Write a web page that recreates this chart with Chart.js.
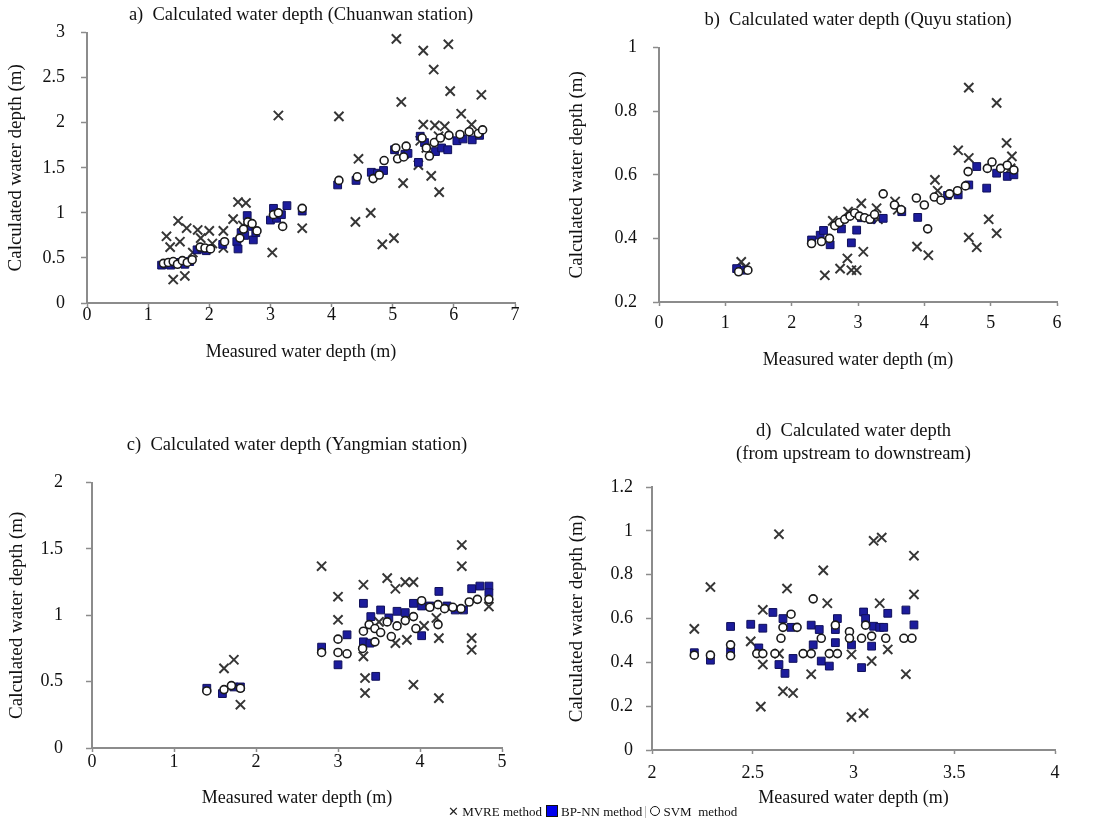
<!DOCTYPE html>
<html>
<head>
<meta charset="utf-8">
<script src="https://cdn.jsdelivr.net/npm/chart.js@4.4.1/dist/chart.umd.min.js"></script>
<style>
  body { margin: 0; background: #fff; }
  #page { position: relative; width: 1095px; height: 825px; overflow: hidden; font-family: 'Liberation Serif', 'Times New Roman', serif; }
  canvas { position: absolute; }
  #legend { position: absolute; left: 448px; top: 804px; font-size: 13px; color: #111; white-space: nowrap; z-index: 2; }
  #legend .cross { font-family: 'DejaVu Sans', sans-serif; font-size: 13px; color: #222; }
  #legend .sq { display: inline-block; width: 10px; height: 10px; background: #0000ee; border: 1px solid #111; vertical-align: -1px; margin: 0 3px 0 4px; }
  #legend .circ { display: inline-block; width: 8px; height: 8px; border: 1.5px solid #111; border-radius: 50%; vertical-align: 0; margin: 0 3px 0 4px; }
  #legend .sep { display: inline-block; width: 1px; height: 12px; background: #bbb; vertical-align: -2px; }
</style>
</head>
<body>
<div id="page">
  <canvas id="chartA" width="545" height="370" style="left:0;top:0"></canvas>
  <canvas id="chartB" width="550" height="375" style="left:545px;top:0"></canvas>
  <canvas id="chartC" width="545" height="403" style="left:0;top:410px"></canvas>
  <canvas id="chartD" width="550" height="403" style="left:545px;top:410px"></canvas>
  <div id="legend">
    <span class="cross">✕</span> MVRE method<span class="sq"></span>BP-NN method <span class="sep"></span><span class="circ"></span>SVM&nbsp; method
  </div>
</div>
<script>
// a) Chuanwan station
const aMvreX = [1.30, 1.36, 1.41, 1.49, 1.52, 1.60, 1.63, 1.73, 1.81, 1.86, 2.00, 2.05, 2.23, 2.23, 2.39, 2.47, 2.60, 2.55, 3.03, 3.13, 3.52, 4.12, 4.39, 4.44, 4.64, 4.83, 5.02, 5.06, 5.14, 5.17, 5.42, 5.50, 5.50, 5.63, 5.67, 5.69, 5.76, 5.85, 5.91, 5.94, 6.12, 6.29, 6.45, 5.45, 5.55, 5.75];
const aMvreY = [0.74, 0.62, 0.26, 0.91, 0.68, 0.30, 0.83, 0.56, 0.81, 0.72, 0.80, 0.66, 0.80, 0.61, 0.93, 1.12, 1.11, 0.86, 0.56, 2.08, 0.83, 2.07, 0.90, 1.60, 1.00, 0.65, 0.72, 2.93, 2.23, 1.33, 1.53, 2.80, 1.98, 1.41, 2.59, 1.97, 1.23, 1.96, 2.87, 2.35, 2.10, 1.98, 2.31, 1.80, 1.72, 1.85];
const aBpX = [1.22, 1.30, 1.37, 1.45, 1.52, 1.60, 1.68, 1.80, 1.88, 1.95, 2.22, 2.45, 2.47, 2.52, 2.58, 2.62, 2.68, 2.72, 2.76, 3.00, 3.05, 3.10, 3.18, 3.27, 3.52, 4.10, 4.40, 4.65, 4.75, 4.85, 5.03, 5.20, 5.25, 5.42, 5.45, 5.52, 5.70, 5.80, 5.90, 6.05, 6.15, 6.30, 6.42];
const aBpY = [0.42, 0.43, 0.42, 0.44, 0.45, 0.43, 0.46, 0.59, 0.60, 0.58, 0.65, 0.68, 0.60, 0.78, 0.75, 0.97, 0.85, 0.70, 0.78, 0.92, 1.05, 0.94, 0.98, 1.08, 1.02, 1.31, 1.36, 1.45, 1.44, 1.47, 1.70, 1.65, 1.66, 1.56, 1.85, 1.78, 1.68, 1.72, 1.70, 1.80, 1.82, 1.81, 1.86];
const aSvmX = [1.25, 1.33, 1.41, 1.48, 1.56, 1.64, 1.72, 1.85, 1.93, 2.02, 2.25, 2.50, 2.56, 2.63, 2.70, 2.78, 3.05, 3.13, 3.20, 3.52, 4.12, 4.42, 4.68, 4.78, 4.86, 5.05, 5.08, 5.18, 5.22, 5.48, 5.55, 5.60, 5.68, 5.78, 5.92, 6.10, 6.25, 6.40, 6.47];
const aSvmY = [0.44, 0.45, 0.46, 0.43, 0.47, 0.45, 0.48, 0.62, 0.61, 0.60, 0.68, 0.72, 0.82, 0.90, 0.88, 0.80, 0.98, 1.00, 0.85, 1.05, 1.36, 1.40, 1.38, 1.42, 1.58, 1.72, 1.60, 1.62, 1.74, 1.83, 1.72, 1.63, 1.78, 1.83, 1.86, 1.87, 1.90, 1.88, 1.92];

// b) Quyu station
const bMvreX = [1.24, 1.30, 2.50, 2.62, 2.73, 2.84, 2.85, 2.90, 2.98, 3.08, 3.05, 3.28, 3.30, 3.56, 3.60, 3.89, 4.06, 4.16, 4.20, 4.51, 4.67, 4.67, 4.67, 4.79, 4.97, 5.09, 5.09, 5.24, 5.32, 5.30];
const bMvreY = [0.326, 0.31, 0.284, 0.455, 0.305, 0.337, 0.484, 0.30, 0.30, 0.358, 0.51, 0.495, 0.46, 0.516, 0.49, 0.374, 0.347, 0.584, 0.55, 0.677, 0.653, 0.874, 0.403, 0.372, 0.46, 0.826, 0.416, 0.70, 0.658, 0.62];
const bBpX = [1.17, 1.28, 2.30, 2.43, 2.48, 2.58, 2.75, 2.90, 2.98, 3.05, 3.20, 3.38, 3.66, 3.90, 4.35, 4.51, 4.67, 4.79, 4.94, 5.09, 5.25, 5.35];
const bBpY = [0.305, 0.30, 0.395, 0.41, 0.425, 0.38, 0.43, 0.386, 0.426, 0.465, 0.46, 0.463, 0.484, 0.466, 0.535, 0.537, 0.568, 0.626, 0.558, 0.605, 0.595, 0.60];
const bSvmX = [1.20, 1.34, 2.30, 2.45, 2.57, 2.65, 2.72, 2.80, 2.88, 2.95, 3.02, 3.10, 3.18, 3.25, 3.38, 3.55, 3.65, 3.88, 4.00, 4.05, 4.15, 4.25, 4.38, 4.50, 4.62, 4.66, 4.95, 5.02, 5.15, 5.25, 5.35];
const bSvmY = [0.295, 0.30, 0.384, 0.39, 0.40, 0.44, 0.45, 0.46, 0.47, 0.48, 0.47, 0.465, 0.46, 0.475, 0.54, 0.505, 0.49, 0.527, 0.505, 0.43, 0.53, 0.52, 0.54, 0.55, 0.565, 0.61, 0.62, 0.64, 0.62, 0.63, 0.615];

// c) Yangmian station
const cMvreX = [1.61, 1.73, 1.81, 2.80, 3.00, 3.00, 3.31, 3.31, 3.33, 3.33, 3.60, 3.70, 3.82, 3.92, 3.92, 3.70, 3.84, 4.20, 4.23, 4.23, 4.51, 4.51, 4.63, 4.63, 4.84, 3.50, 4.05];
const cMvreY = [0.60, 0.665, 0.326, 1.37, 1.14, 0.966, 1.23, 0.69, 0.527, 0.414, 1.28, 1.20, 1.25, 1.25, 0.477, 0.79, 0.815, 0.98, 0.828, 0.376, 1.53, 1.37, 0.828, 0.74, 1.066, 0.95, 0.92];
const cBpX = [1.40, 1.59, 1.73, 1.81, 2.80, 3.00, 3.11, 3.31, 3.31, 3.39, 3.40, 3.46, 3.52, 3.62, 3.72, 3.82, 3.92, 4.02, 4.02, 4.12, 4.23, 4.33, 4.43, 4.53, 4.63, 4.73, 4.84, 4.84];
const cBpY = [0.45, 0.41, 0.46, 0.46, 0.76, 0.627, 0.853, 1.09, 0.80, 0.79, 0.99, 0.54, 1.04, 0.98, 1.03, 1.02, 1.09, 0.846, 1.07, 1.07, 1.18, 1.07, 1.04, 1.04, 1.20, 1.22, 1.22, 1.17];
const cSvmX = [1.40, 1.61, 1.70, 1.81, 2.80, 3.00, 3.00, 3.11, 3.30, 3.31, 3.38, 3.45, 3.52, 3.60, 3.65, 3.72, 3.82, 3.92, 3.95, 4.02, 4.12, 4.22, 4.30, 4.40, 4.50, 4.60, 4.70, 4.84, 3.45, 4.22];
const cSvmY = [0.43, 0.44, 0.47, 0.45, 0.72, 0.82, 0.72, 0.71, 0.75, 0.88, 0.93, 0.90, 0.87, 0.95, 0.84, 0.92, 0.96, 0.99, 0.90, 1.11, 1.06, 1.08, 1.05, 1.06, 1.05, 1.10, 1.12, 1.12, 0.80, 0.93];

// d) upstream to downstream
const dMvreX = [2.21, 2.29, 2.49, 2.54, 2.55, 2.55, 2.63, 2.63, 2.65, 2.67, 2.70, 2.79, 2.85, 2.87, 2.99, 2.99, 3.05, 3.09, 3.10, 3.13, 3.14, 3.17, 3.26, 3.30, 3.30];
const dMvreY = [0.553, 0.744, 0.496, 0.198, 0.64, 0.39, 0.985, 0.44, 0.268, 0.737, 0.26, 0.346, 0.82, 0.67, 0.436, 0.15, 0.168, 0.406, 0.955, 0.67, 0.97, 0.459, 0.346, 0.887, 0.71];
const dBpX = [2.21, 2.29, 2.39, 2.39, 2.49, 2.53, 2.55, 2.60, 2.63, 2.65, 2.66, 2.69, 2.70, 2.79, 2.80, 2.83, 2.84, 2.88, 2.91, 2.92, 2.91, 2.99, 3.04, 3.05, 3.06, 3.09, 3.10, 3.13, 3.15, 3.17, 3.26, 3.30];
const dBpY = [0.444, 0.41, 0.564, 0.45, 0.574, 0.466, 0.556, 0.628, 0.39, 0.60, 0.35, 0.56, 0.418, 0.57, 0.48, 0.55, 0.406, 0.383, 0.55, 0.60, 0.49, 0.48, 0.376, 0.63, 0.60, 0.474, 0.565, 0.56, 0.56, 0.624, 0.639, 0.571];
const dSvmX = [2.21, 2.29, 2.39, 2.39, 2.52, 2.55, 2.61, 2.64, 2.65, 2.69, 2.72, 2.75, 2.79, 2.84, 2.88, 2.92, 2.80, 2.98, 2.98, 3.04, 3.09, 3.16, 3.25, 3.29, 2.91, 3.06];
const dSvmY = [0.433, 0.433, 0.48, 0.43, 0.44, 0.44, 0.44, 0.51, 0.56, 0.62, 0.56, 0.44, 0.44, 0.51, 0.44, 0.44, 0.69, 0.54, 0.51, 0.51, 0.52, 0.51, 0.51, 0.51, 0.57, 0.57];

const xTitle = 'Measured water depth (m)';
const yTitle = 'Calculated water depth (m)';
const serif = "'Liberation Serif', 'Times New Roman', serif";
const axisGray = '#8c8c8c';

function toPoints(xs, ys) {
    return xs.map((x, i) => ({ x: x, y: ys[i] }));
}

function fmt(v) {
    return String(Math.round(v * 100) / 100);
}

function buildChart(id, c) {
    const font = { family: serif, size: 18 };
    return new Chart(document.getElementById(id), {
        type: 'scatter',
        data: {
            datasets: [
                {
                    label: 'MVRE method',
                    data: toPoints(c.mvre[0], c.mvre[1]),
                    pointStyle: 'crossRot',
                    pointRadius: 6.5,
                    borderWidth: 2,
                    borderColor: '#363636',
                    backgroundColor: '#363636',
                    order: 3
                },
                {
                    label: 'BP-NN method',
                    data: toPoints(c.bp[0], c.bp[1]),
                    pointStyle: 'rect',
                    pointRadius: 5.5,
                    borderWidth: 1,
                    borderColor: '#10105a',
                    backgroundColor: '#1c1c9c',
                    order: 2
                },
                {
                    label: 'SVM method',
                    data: toPoints(c.svm[0], c.svm[1]),
                    pointStyle: 'circle',
                    pointRadius: 4,
                    borderWidth: 1.6,
                    borderColor: '#1a1a1a',
                    backgroundColor: '#ffffff',
                    order: 1
                }
            ]
        },
        options: {
            responsive: false,
            animation: false,
            events: [],
            layout: { padding: c.pad },
            plugins: {
                legend: { display: false },
                tooltip: { enabled: false },
                title: {
                    display: true,
                    text: c.title,
                    fullSize: false,
                    color: '#111',
                    font: { family: serif, size: 18.5, weight: 'normal', lineHeight: 1.22 },
                    padding: { top: c.titlePad[0], bottom: c.titlePad[1] }
                }
            },
            scales: {
                x: {
                    type: 'linear',
                    min: c.xRange[0],
                    max: c.xRange[1],
                    ticks: { stepSize: c.xStep, padding: c.xTickPad, color: '#111', font: font, callback: fmt },
                    grid: { drawOnChartArea: false, tickLength: 4, tickWidth: 1.5, color: axisGray },
                    border: { color: axisGray, width: 2 },
                    title: { display: true, text: xTitle, color: '#111', font: font, padding: { top: 0, bottom: 4 } },
                    afterFit: s => { s.height = c.xH; }
                },
                y: {
                    type: 'linear',
                    min: c.yRange[0],
                    max: c.yRange[1],
                    ticks: { stepSize: c.yStep, padding: c.yTickPad, color: '#111', font: font, callback: fmt },
                    grid: { drawOnChartArea: false, tickLength: 6, tickWidth: 1.5, color: axisGray },
                    border: { color: axisGray, width: 2 },
                    title: { display: true, text: yTitle, color: '#111', font: { family: serif, size: 19 }, padding: { top: c.yTitlePad, bottom: 0 } },
                    afterFit: s => { s.width = c.yW; }
                }
            }
        }
    });
}

buildChart('chartA', {
    title: 'a)  Calculated water depth (Chuanwan station)',
    mvre: [aMvreX, aMvreY], bp: [aBpX, aBpY], svm: [aSvmX, aSvmY],
    xRange: [0, 7], xStep: 1, yRange: [0, 3], yStep: 0.5,
    pad: { left: 0, right: 30, top: 0, bottom: 3 },
    titlePad: [4, 6], xH: 64, yW: 87, xTickPad: -3, yTickPad: 16, yTitlePad: 5
});

buildChart('chartB', {
    title: 'b)  Calculated water depth (Quyu station)',
    mvre: [bMvreX, bMvreY], bp: [bBpX, bBpY], svm: [bSvmX, bSvmY],
    xRange: [0, 6], xStep: 1, yRange: [0.2, 1], yStep: 0.2,
    pad: { left: 0, right: 38, top: 0, bottom: 0 },
    titlePad: [9, 16], xH: 73, yW: 114, xTickPad: 6, yTickPad: 16, yTitlePad: 21
});

buildChart('chartC', {
    title: 'c)  Calculated water depth (Yangmian station)',
    mvre: [cMvreX, cMvreY], bp: [cBpX, cBpY], svm: [cSvmX, cSvmY],
    xRange: [0, 5], xStep: 1, yRange: [0, 2], yStep: 0.5,
    pad: { left: 0, right: 43, top: 0, bottom: 0 },
    titlePad: [24, 26], xH: 65, yW: 92, xTickPad: -1, yTickPad: 23, yTitlePad: 6
});

buildChart('chartD', {
    title: ['d)  Calculated water depth', '(from upstream to downstream)'],
    mvre: [dMvreX, dMvreY], bp: [dBpX, dBpY], svm: [dSvmX, dSvmY],
    xRange: [2, 4], xStep: 0.5, yRange: [0, 1.2], yStep: 0.2,
    pad: { left: 0, right: 40, top: 0, bottom: 0 },
    titlePad: [10, 22], xH: 63, yW: 107, xTickPad: 8, yTickPad: 13, yTitlePad: 21
});
</script>
</body>
</html>
